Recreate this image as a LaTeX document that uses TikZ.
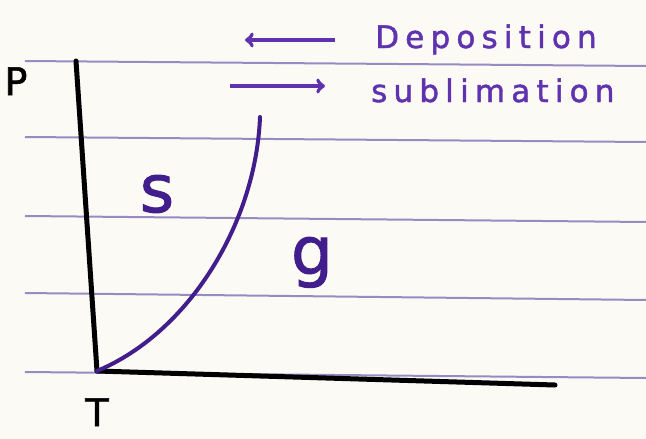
\documentclass[tikz,border=0pt]{standalone}
\usepackage{fontspec}
\newfontfamily\handfont[LetterSpace=20,FakeBold=1.5]{DejaVu Sans}
\newfontfamily\markfont[FakeBold=1.5]{DejaVu Sans}
\usetikzlibrary{positioning}
\definecolor{ink}{RGB}{95,50,175}
\definecolor{darkink}{RGB}{65,30,140}
\definecolor{ruling}{RGB}{150,140,195}
\definecolor{paper}{RGB}{252,250,244}
\tikzset{
  axis/.style={
    line width=5pt,
    line cap=round,
    black
  },
  rule/.style={
    line width=2pt,
    ruling
  },
  phase/.style={
    line width=4pt,
    line cap=round,
    darkink
  },
  hand/.style={
    text=ink,
    font=\handfont\fontsize{31}{33}\selectfont,
    inner sep=1pt
  },
  region/.style={
    text=darkink,
    font=\markfont\fontsize{66}{68}\selectfont,
    inner sep=1pt
  },
  tag/.style={
    text=black,
    font=\markfont\fontsize{38}{40}\selectfont,
    inner sep=0pt
  },
  marrow/.style={
    line width=4pt,
    ink,
    ->,
    >=to
  }
}
\begin{document}
\begin{tikzpicture}[x=1pt,y=-1pt]
\fill[paper] (0,0) rectangle (646,439);
\useasboundingbox (0,0) rectangle (646,439);
		  \foreach \y/\z in {61/66,137/142,216/222,293/300,372/378}{
		    \draw[rule] (25,\y) -- (646,\z); }
\coordinate (origin) at (97,371);
\coordinate (ptop) at (76,61);
\coordinate (tend) at (555,385);
\coordinate (ctop) at (260,117);
\draw[axis] (ptop) -- (origin);
\draw[axis] (origin) -- (tend);
\draw[phase] (origin) .. controls (190,332) and (256,222) .. (ctop);
\node[tag, anchor=base] (P) at (16,95) {P};
\node[tag, anchor=base] (T) at (97,426) {T};
\node[region, anchor=base] (s) at (157,212) {s};
\node[region, anchor=base] (g) at (312,274) {g};
\node[hand, anchor=base west] (dep) at (374,48) {Deposition};
\node[hand, anchor=base west] (sub) at (370,102) {sublimation};
\coordinate (dep-a) at (245,40);
\coordinate (dep-b) at (335,40);
\coordinate (sub-a) at (230,86);
\coordinate (sub-b) at (325,86);
\draw[marrow] (dep-b) -- (dep-a);
\draw[marrow] (sub-a) -- (sub-b);
\end{tikzpicture}
\end{document}
